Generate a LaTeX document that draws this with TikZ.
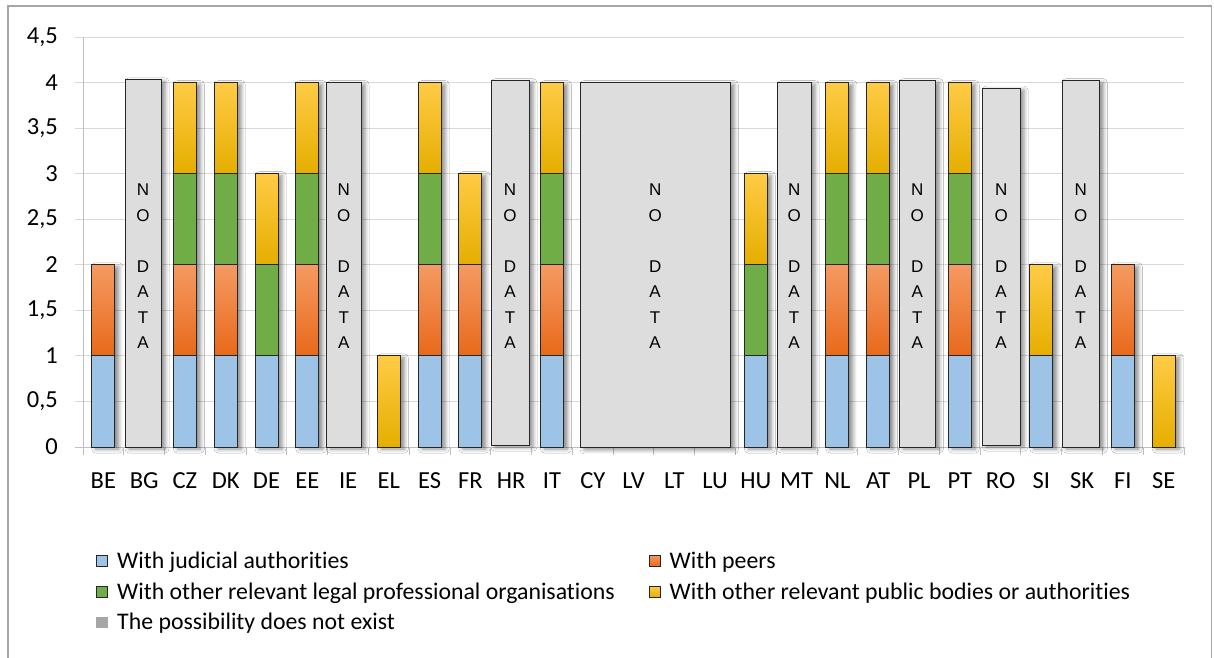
\documentclass[tikz,border=0pt]{standalone}
\usepackage{fontspec}
\setmainfont{Carlito}[Ligatures=NoCommon]
\newfontfamily\nodatafont{Liberation Sans}
\usetikzlibrary{shadows.blur}
\definecolor{cblue}{HTML}{9DC3E6}
\definecolor{cgreen}{HTML}{70AD47}
\definecolor{corangeT}{HTML}{F59A62}
\definecolor{corangeB}{HTML}{E8691A}
\definecolor{cyellowT}{HTML}{FFCB45}
\definecolor{cyellowM}{HTML}{FFC000}
\definecolor{cyellowB}{HTML}{E5AE00}
\definecolor{cnodata}{HTML}{DDDDDD}
\definecolor{cgrid}{HTML}{D9D9D9}
\definecolor{caxis}{HTML}{BFBFBF}
\definecolor{cframe}{HTML}{A6A6A6}
\definecolor{clegray}{HTML}{A6A6A6}
\begin{document}
\begin{tikzpicture}[x=1pt,y=-1pt,
  segline/.style={draw=black!85, line width=0.9pt},
  sb/.style={segline, fill=cblue},
  sg/.style={segline, fill=cgreen},
  so/.style={segline, top color=corangeT, bottom color=corangeB},
  sy/.style={segline, top color=cyellowT, middle color=cyellowM, bottom color=cyellowB},
  nodatabox/.style={segline, fill=cnodata},
  shad/.style={blur shadow={shadow xshift=4pt, shadow yshift=-2pt, shadow blur radius=4pt, shadow opacity=45}},
  gridline/.style={draw=cgrid, line width=1pt},
  axisline/.style={draw=caxis, line width=1pt},
  ylab/.style={anchor=east, inner sep=0pt, font=\fontsize{24.5}{28}\selectfont},
  xlab/.style={anchor=center, inner sep=0pt, font=\fontsize{24.5}{28}\selectfont},
  ndtext/.style={align=center, inner sep=0pt, font=\nodatafont\fontsize{17}{25.5}\selectfont},
  legsq/.style={draw=black!85, line width=0.8pt},
  legtext/.style={anchor=base west, inner sep=0pt, font=\fontsize{23.8}{28}\selectfont}
]
\useasboundingbox (0,0) rectangle (1214,657);
\fill[white] (0,0) rectangle (1214,657);
\draw[cframe, line width=1.4pt] (8,662) -- (8,6) -- (1211.5,6) -- (1211.5,662);

\begin{scope}[shift={(0,447)}, y=91.111pt]
  % gridlines
  \foreach \v in {0.5,1,...,4.5} \draw[gridline] (75,\v) -- (1184,\v);
  % axes
  \draw[axisline] (83,0) -- (83,4.5);
  \draw[axisline] (75,0) -- (1184,0);
  \foreach \k in {0,...,27} {
    \pgfmathsetmacro\tx{83+40.78*\k}
    \draw[axisline] (\tx,0) -- (\tx,-0.088);
  }
  % y labels
  \foreach \v/\l [count=\n] in {0/0,0.5/{0,5},1/1,1.5/{1,5},2/2,2.5/{2,5},3/3,3.5/{3,5},4/4,4.5/{4,5}}
    \node[ylab] (ylab\n) at (58,\v) {\l};
  % x labels
  \foreach \l [count=\n from 0] in {BE,BG,CZ,DK,DE,EE,IE,EL,ES,FR,HR,IT,CY,LV,LT,LU,HU,MT,NL,AT,PL,PT,RO,SI,SK,FI,SE} {
    \pgfmathsetmacro\cx{83+40.78*(\n+0.5)}
    \node[xlab] (xlab\n) at (\cx,-0.37) {\l};
  }
  % shadows of the coloured bars
  \foreach \i/\t in {0/2,2/4,3/4,4/3,5/4,7/1,8/4,9/3,11/4,16/3,18/4,19/4,21/4,23/2,25/2,26/1} {
    \pgfmathsetmacro\cx{83+40.78*(\i+0.5)}
    \path[shad] (\cx-11.5,0) rectangle (\cx+11.5,\t);
  }
  % segments
  \foreach \i/\lo/\hi/\s in {
    0/0/1/sb, 0/1/2/so,
    2/0/1/sb, 2/1/2/so, 2/2/3/sg, 2/3/4/sy,
    3/0/1/sb, 3/1/2/so, 3/2/3/sg, 3/3/4/sy,
    4/0/1/sb, 4/1/2/sg, 4/2/3/sy,
    5/0/1/sb, 5/1/2/so, 5/2/3/sg, 5/3/4/sy,
    7/0/1/sy,
    8/0/1/sb, 8/1/2/so, 8/2/3/sg, 8/3/4/sy,
    9/0/1/sb, 9/1/2/so, 9/2/3/sy,
    11/0/1/sb, 11/1/2/so, 11/2/3/sg, 11/3/4/sy,
    16/0/1/sb, 16/1/2/sg, 16/2/3/sy,
    18/0/1/sb, 18/1/2/so, 18/2/3/sg, 18/3/4/sy,
    19/0/1/sb, 19/1/2/so, 19/2/3/sg, 19/3/4/sy,
    21/0/1/sb, 21/1/2/so, 21/2/3/sg, 21/3/4/sy,
    23/0/1/sb, 23/1/2/sy,
    25/0/1/sb, 25/1/2/so,
    26/0/1/sy} {
    \pgfmathsetmacro\cx{83+40.78*(\i+0.5)}
    \path[\s] (\cx-11.5,\lo) rectangle (\cx+11.5,\hi);
  }
  % NO DATA boxes
  \foreach \xa/\xb/\yt/\yb [count=\n] in {125/161/4.03/0, 326.5/361/4.0/0, 491/529/4.02/0.02, 580/730.3/4/-0.01, 777.3/811/4/0, 899.3/935.3/4.02/0, 982.3/1020/3.94/0.02, 1062/1099.3/4.02/0} {
    \path[nodatabox, shad] (\xa,\yb) rectangle (\xb,\yt);
    \pgfmathsetmacro\mx{(\xa+\xb)/2}
    \node[ndtext] (nodata\n) at (\mx,1.981) {N\\O\\[25.5pt]D\\A\\T\\A};
  }
\end{scope}

% legend
\path[legsq, fill=cblue] (96,555) rectangle (107.5,566.5);
\node[legtext] (leg1) at (117,568.5) {With judicial authorities};
\path[legsq, fill=cgreen] (96,586) rectangle (107.5,597.5);
\node[legtext] (leg2) at (117,599.5) {With other relevant legal professional organisations};
\fill[clegray] (96,616.5) rectangle (107.5,628);
\node[legtext] (leg3) at (117,629.5) {The possibility does not exist};
\path[legsq, top color=corangeT, bottom color=corangeB] (649,555) rectangle (660.5,566.5);
\node[legtext] (leg4) at (669.5,568.5) {With peers};
\path[legsq, top color=cyellowT, middle color=cyellowM, bottom color=cyellowB] (649,586) rectangle (660.5,597.5);
\node[legtext] (leg5) at (669.5,599.5) {With other relevant public bodies or authorities};
\end{tikzpicture}
\end{document}
